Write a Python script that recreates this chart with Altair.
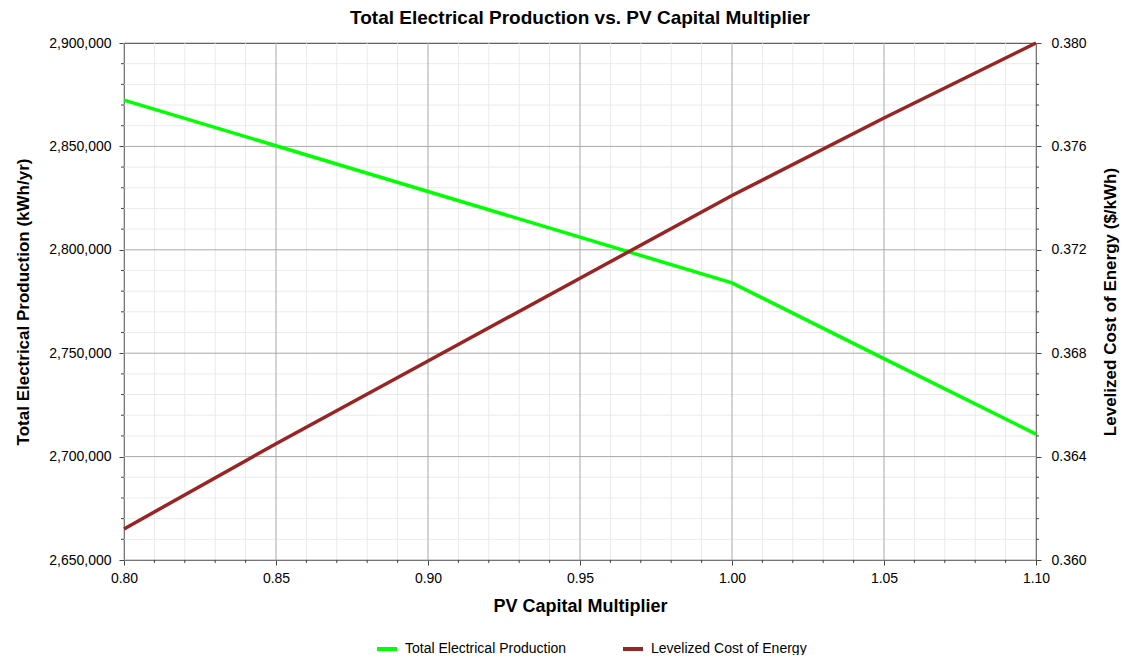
import altair as alt
import pandas as pd

# ---- data ----
multiplier = [0.80, 0.85, 0.90, 0.95, 1.00, 1.05, 1.10]
production = [2872400, 2850300, 2828200, 2806100, 2784000, 2747400, 2710900]
lcoe = [0.3612, 0.3645, 0.3677, 0.3709, 0.3741, 0.3771, 0.3800]

series_names = ["Total Electrical Production", "Levelized Cost of Energy"]
series_colors = ["#00ff00", "#992424"]

x_major = [0.80, 0.85, 0.90, 0.95, 1.00, 1.05, 1.10]
x_minor = [round(0.80 + 0.01 * i, 2) for i in range(31) if i % 5 != 0]
y_major = [2650000, 2700000, 2750000, 2800000, 2850000, 2900000]
y_minor = [2650000 + 10000 * i for i in range(26) if i % 5 != 0]
r_major = [0.360, 0.364, 0.368, 0.372, 0.376, 0.380]
r_minor = [round(0.360 + 0.0008 * i, 4) for i in range(26) if i % 5 != 0]

df_prod = pd.DataFrame({"m": multiplier, "prod": production,
                        "series": [series_names[0]] * len(multiplier)})
df_lcoe = pd.DataFrame({"m": multiplier, "lcoe": lcoe,
                        "series": [series_names[1]] * len(multiplier)})
W, H = 912, 517
FONT = "Liberation Sans"

xs = alt.Scale(domain=[0.8, 1.1], nice=False, zero=False)
ys = alt.Scale(domain=[2650000, 2900000], nice=False, zero=False)
rs = alt.Scale(domain=[0.36, 0.38], nice=False, zero=False)
cs = alt.Scale(domain=series_names, range=series_colors)

X_TITLE = "PV Capital Multiplier"
Y_TITLE = "Total Electrical Production (kWh/yr)"
R_TITLE = "Levelized Cost of Energy ($/kWh)"
X_AXIS = alt.Axis(values=x_major, format=".2f", orient="bottom", labelPadding=6,
                  titlePadding=12, labelFlush=False, titleFontSize=18)
Y_AXIS = alt.Axis(values=y_major, format=",d", orient="left", labelPadding=8,
                  titlePadding=16, labelFlush=False, titleFontSize=17)
R_AXIS = alt.Axis(values=r_major, format=".3f", orient="right", labelPadding=10,
                  labelFlush=False, titleAngle=270, titleFontSize=17,
                  titleX=74, titleY=H / 2, titleAlign="center", titleBaseline="middle")


def X(field):
    return alt.X(field, type="quantitative", scale=xs, title=X_TITLE, axis=X_AXIS)


def Y(field):
    return alt.Y(field, type="quantitative", scale=ys, title=Y_TITLE, axis=Y_AXIS)


def R(field):
    return alt.Y(field, type="quantitative", scale=rs, title=R_TITLE, axis=R_AXIS)


legend = alt.Legend(
    title=None, orient="none", legendX=251, legendY=594, direction="horizontal",
    symbolType="stroke", symbolStrokeWidth=4, symbolSize=400,
    labelFont=FONT, labelFontSize=14, labelColor="#000", columnPadding=48,
    labelOffset=6, padding=0, labelLimit=0,
)

minor_c = "#ebebeb"
major_c = "#a8a8a8"
tick_c = "#444444"


def vrules(vals, color):
    return alt.Chart(pd.DataFrame({"v": vals})).mark_rule(color=color, strokeWidth=1).encode(x=X("v"))


def hrules(vals, color):
    return alt.Chart(pd.DataFrame({"v": vals})).mark_rule(color=color, strokeWidth=1).encode(y=Y("v"))


x_minor_ticks = alt.Chart(pd.DataFrame({"v": x_minor})).mark_rule(color=tick_c).encode(
    x=X("v"), y=alt.value(H), y2=alt.value(H + 3))
y_minor_ticks = alt.Chart(pd.DataFrame({"v": y_minor})).mark_rule(color=tick_c).encode(
    y=Y("v"), x=alt.value(-3), x2=alt.value(0))
r_minor_ticks = alt.Chart(pd.DataFrame({"v": r_minor})).mark_rule(color=tick_c).encode(
    y=R("v"), x=alt.value(W), x2=alt.value(W + 3))

green = alt.Chart(df_prod).mark_line(strokeWidth=3.5).encode(
    x=X("m"), y=Y("prod"),
    color=alt.Color("series:N", scale=cs, legend=legend),
)

red = alt.Chart(df_lcoe).mark_line(strokeWidth=3.5).encode(
    x=X("m"), y=R("lcoe"),
    color=alt.Color("series:N", scale=cs, legend=legend),
)

left = alt.layer(
    vrules(x_minor, minor_c), hrules(y_minor, minor_c),
    vrules(x_major, major_c), hrules(y_major, major_c),
    x_minor_ticks, y_minor_ticks, green,
)
right = alt.layer(r_minor_ticks, red)

chart = alt.layer(left, right).resolve_scale(y="independent").properties(
    width=W, height=H,
    title=alt.Title("Total Electrical Production vs. PV Capital Multiplier",
                    font=FONT, fontSize=19, fontWeight="bold", color="#000",
                    anchor="middle", offset=8),
    autosize=alt.AutoSizeParams(type="none"),
    padding={"left": 116, "top": 35, "right": 84, "bottom": 95},
).configure_axis(
    labelFont=FONT, labelFontSize=14, labelColor="#000",
    titleFont=FONT, titleFontSize=17, titleFontWeight="bold", titleColor="#000",
    domainColor="#444444", tickColor="#444444", tickSize=5, grid=False,
).configure_view(stroke="#222222", strokeWidth=1)

chart.save("out.html", embed_options={"renderer": "svg", "actions": False})
